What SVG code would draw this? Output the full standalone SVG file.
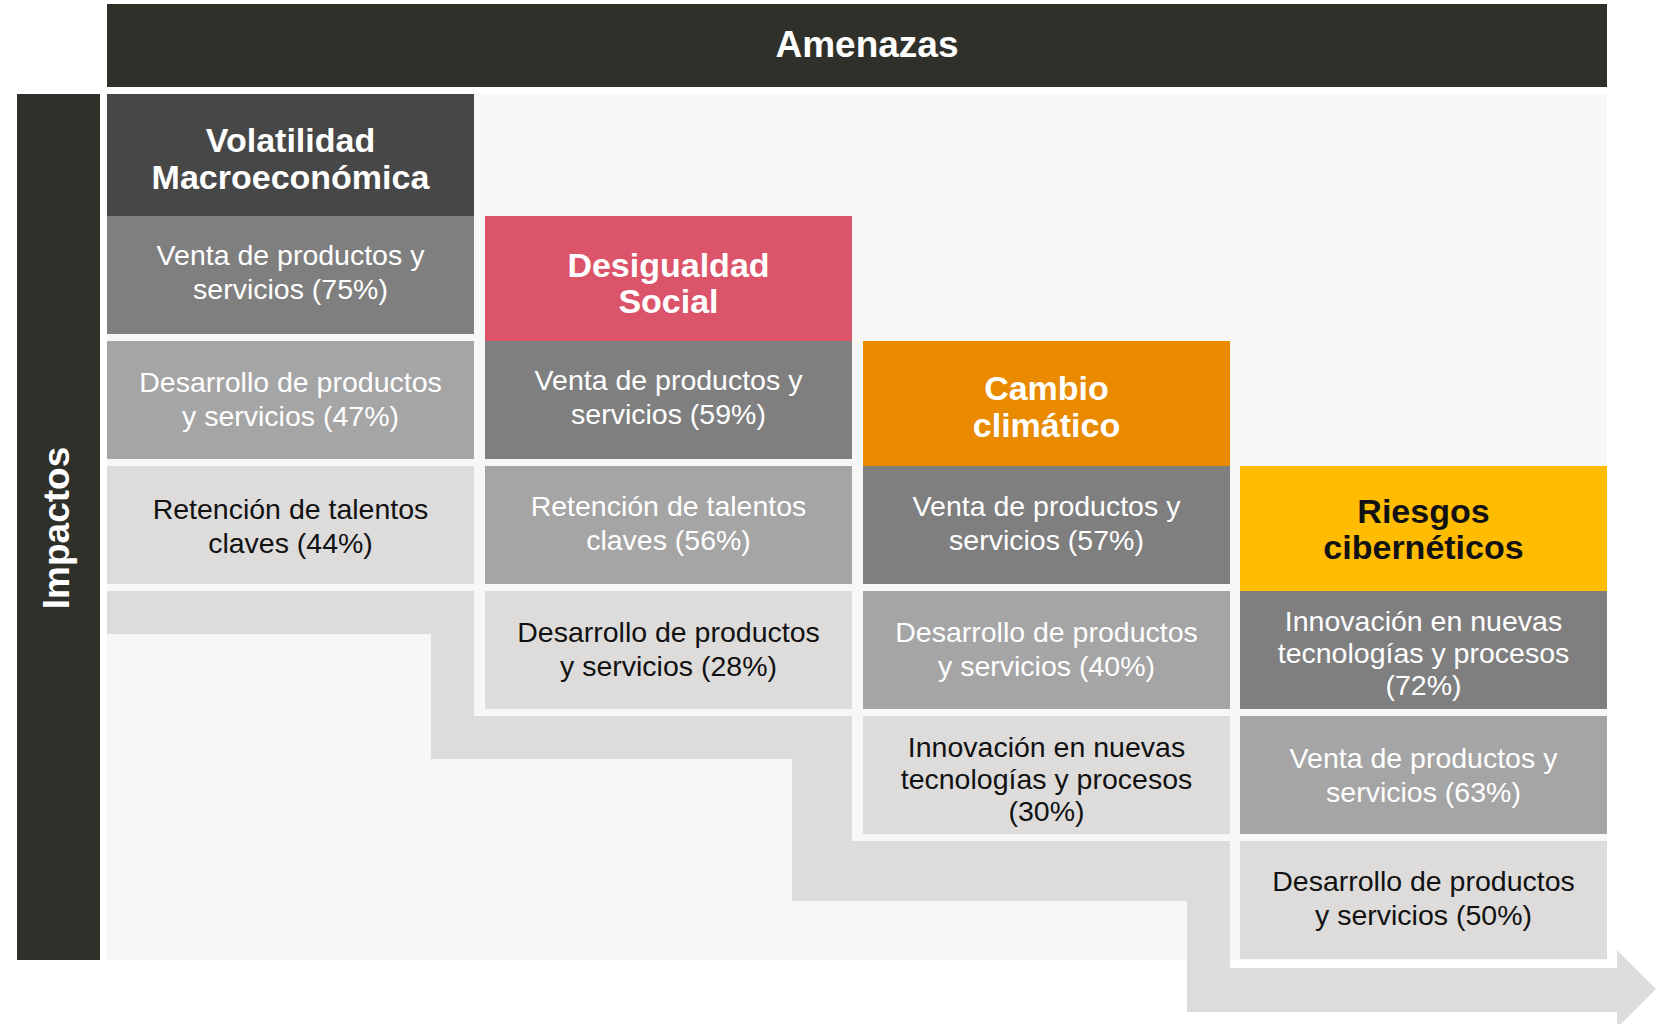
<svg xmlns="http://www.w3.org/2000/svg" width="1661" height="1024" viewBox="0 0 1661 1024">
<style>
.bar{fill:#30302b}
.t{font-family:"Liberation Sans",Arial,sans-serif;text-anchor:middle}
.h{font-weight:bold;font-size:34px}
.c{font-size:28.5px}
.w{fill:#ffffff}
.k{fill:#111111}
.g1{fill:#7f7f7f}
.g2{fill:#a5a5a5}
.g3{fill:#dddcdb}
</style>
<rect x="0" y="0" width="1661" height="1024" fill="#ffffff"/>
<rect x="107" y="94" width="1500" height="866" fill="#f7f7f7"/>
<g id="connectors">
<path class="g3" d="M107,591 H474 V716 H852 V841 H1230 V968 H1617 V950 L1656,989 L1617,1028 V1012 H1187 V901 H792 V759 H431 V634 H107 Z"/>
</g>
<g id="amenazas">
<rect class="bar" x="107" y="4" width="1500" height="83"/>
<text class="t w" x="867" y="57" font-weight="bold" font-size="37">Amenazas</text>
</g>
<g id="impactos">
<rect class="bar" x="17" y="94" width="83" height="866"/>
<text class="t w" transform="translate(69,528) rotate(-90)" font-weight="bold" font-size="37">Impactos</text>
</g>
<g id="col1">
<rect x="107" y="94" width="367" height="122" fill="#474747"/>
<text class="t h w" x="290.5" y="152">Volatilidad</text>
<text class="t h w" x="290.5" y="189">Macroeconómica</text>
<rect class="g1" x="107" y="216" width="367" height="118"/>
<text class="t c w" x="290.5" y="265">Venta de productos y</text>
<text class="t c w" x="290.5" y="299">servicios (75%)</text>
<rect class="g2" x="107" y="341" width="367" height="118"/>
<text class="t c w" x="290.5" y="392">Desarrollo de productos</text>
<text class="t c w" x="290.5" y="426">y servicios (47%)</text>
<rect class="g3" x="107" y="466" width="367" height="118"/>
<text class="t c k" x="290.5" y="519">Retención de talentos</text>
<text class="t c k" x="290.5" y="553">claves (44%)</text>
</g>
<g id="col2">
<rect x="485" y="216" width="367" height="125" fill="#dc546a"/>
<text class="t h w" x="668.5" y="277">Desigualdad</text>
<text class="t h w" x="668.5" y="313">Social</text>
<rect class="g1" x="485" y="341" width="367" height="118"/>
<text class="t c w" x="668.5" y="390">Venta de productos y</text>
<text class="t c w" x="668.5" y="424">servicios (59%)</text>
<rect class="g2" x="485" y="466" width="367" height="118"/>
<text class="t c w" x="668.5" y="516">Retención de talentos</text>
<text class="t c w" x="668.5" y="550">claves (56%)</text>
<rect class="g3" x="485" y="591" width="367" height="118"/>
<text class="t c k" x="668.5" y="642">Desarrollo de productos</text>
<text class="t c k" x="668.5" y="676">y servicios (28%)</text>
</g>
<g id="col3">
<rect x="863" y="341" width="367" height="125" fill="#e98a00"/>
<text class="t h w" x="1046.5" y="400">Cambio</text>
<text class="t h w" x="1046.5" y="437">climático</text>
<rect class="g1" x="863" y="466" width="367" height="118"/>
<text class="t c w" x="1046.5" y="516">Venta de productos y</text>
<text class="t c w" x="1046.5" y="550">servicios (57%)</text>
<rect class="g2" x="863" y="591" width="367" height="118"/>
<text class="t c w" x="1046.5" y="642">Desarrollo de productos</text>
<text class="t c w" x="1046.5" y="676">y servicios (40%)</text>
<rect class="g3" x="863" y="716" width="367" height="118"/>
<text class="t c k" x="1046.5" y="757">Innovación en nuevas</text>
<text class="t c k" x="1046.5" y="789">tecnologías y procesos</text>
<text class="t c k" x="1046.5" y="821">(30%)</text>
</g>
<g id="col4">
<rect x="1240" y="466" width="367" height="125" fill="#ffbc00"/>
<text class="t h k" x="1423.5" y="523">Riesgos</text>
<text class="t h k" x="1423.5" y="559">cibernéticos</text>
<rect class="g1" x="1240" y="591" width="367" height="118"/>
<text class="t c w" x="1423.5" y="631">Innovación en nuevas</text>
<text class="t c w" x="1423.5" y="663">tecnologías y procesos</text>
<text class="t c w" x="1423.5" y="695">(72%)</text>
<rect class="g2" x="1240" y="716" width="367" height="118"/>
<text class="t c w" x="1423.5" y="768">Venta de productos y</text>
<text class="t c w" x="1423.5" y="802">servicios (63%)</text>
<rect class="g3" x="1240" y="841" width="367" height="118"/>
<text class="t c k" x="1423.5" y="891">Desarrollo de productos</text>
<text class="t c k" x="1423.5" y="925">y servicios (50%)</text>
</g>
</svg>
